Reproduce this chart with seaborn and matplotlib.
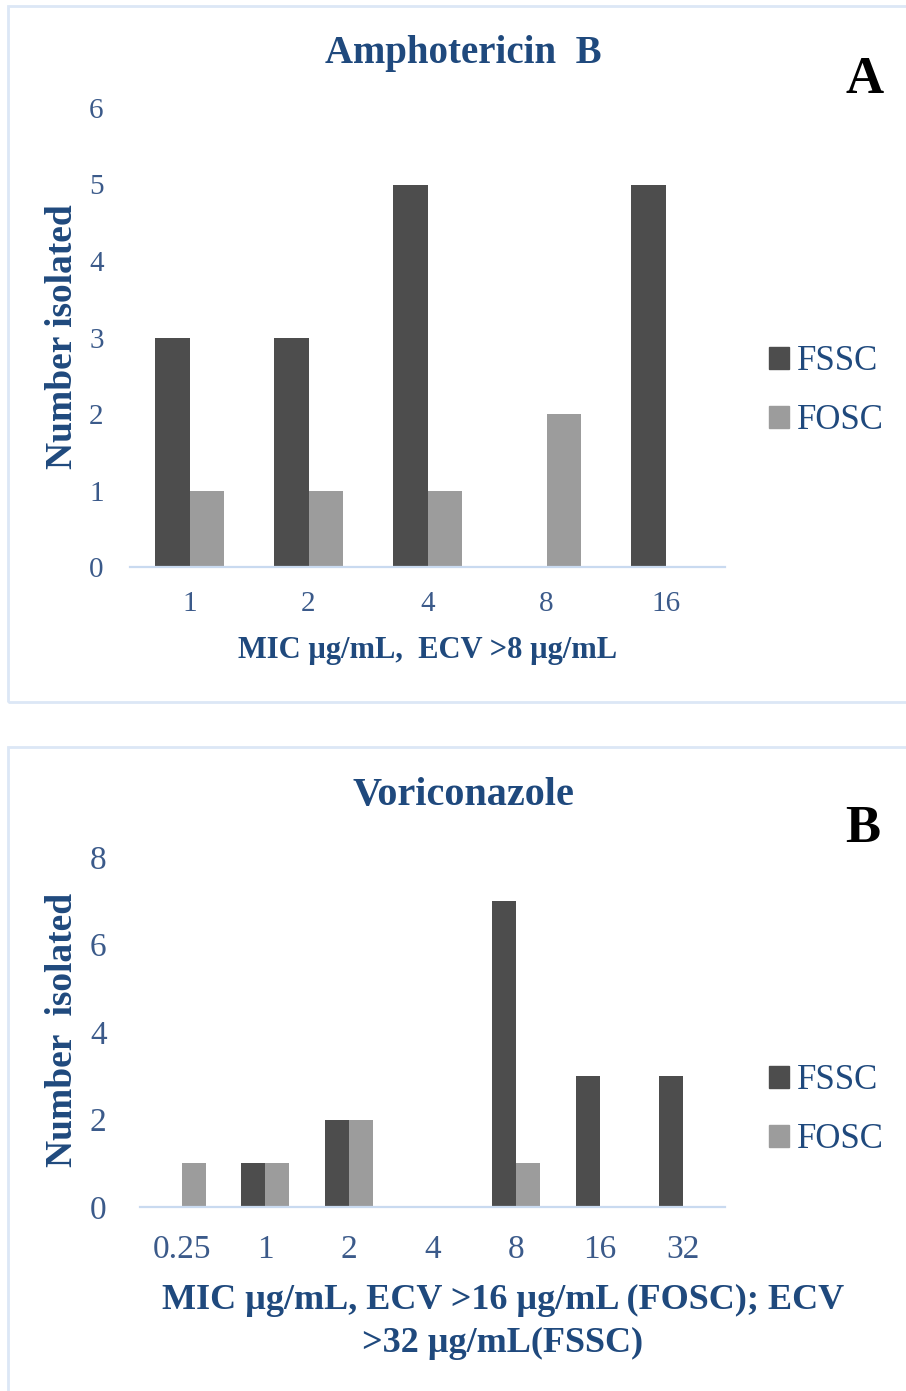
import pandas as pd
import matplotlib.pyplot as plt
import seaborn as sns
from matplotlib.patches import Rectangle

# ---- data ----
amb_mic = ["1", "2", "4", "8", "16"]
amb_fssc = [3, 3, 5, 0, 5]
amb_fosc = [1, 1, 1, 2, 0]

vor_mic = ["0.25", "1", "2", "4", "8", "16", "32"]
vor_fssc = [0, 1, 2, 0, 7, 3, 3]
vor_fosc = [1, 1, 2, 0, 1, 0, 0]

groups = ["FSSC", "FOSC"]
colors = {"FSSC": "#4d4d4d", "FOSC": "#9c9c9c"}

def long_table(mic, fssc, fosc):
    return pd.DataFrame({
        "MIC": mic * 2,
        "Count": fssc + fosc,
        "Group": ["FSSC"] * len(mic) + ["FOSC"] * len(mic),
    })

amb_df = long_table(amb_mic, amb_fssc, amb_fosc)
vor_df = long_table(vor_mic, vor_fssc, vor_fosc)

sns.set_theme(style="white")
plt.rcParams["font.family"] = ["Liberation Serif", "DejaVu Serif"]

W, H = 906, 1391
fig = plt.figure(figsize=(W / 100, H / 100), dpi=100)

blue = "#1f497d"
tick_blue = "#3b5a8a"
line_blue = "#c9daf0"

def fx(px):
    return px / W

def fy(py):
    return 1 - py / H

# panel frames
fig.patches.append(Rectangle((fx(8), fy(702)), fx(920) - fx(8), fy(6) - fy(702),
                             transform=fig.transFigure, fill=False, edgecolor="#dce7f6", lw=2))
fig.patches.append(Rectangle((fx(8), fy(1420)), fx(920) - fx(8), fy(747) - fy(1420),
                             transform=fig.transFigure, fill=False, edgecolor="#dce7f6", lw=2))


def draw_panel(df, order, rect, ymax, ystep, tick_fs, ypad, xpad):
    ax = fig.add_axes(rect)
    sns.barplot(data=df, x="MIC", y="Count", hue="Group", order=order,
                hue_order=groups, palette=colors, width=0.575, ax=ax,
                saturation=1, edgecolor="none", legend=False)
    ax.set_ylim(0, ymax)
    ax.set_xlim(-0.5, len(order) - 0.5)
    ax.set_yticks(range(0, ymax + 1, ystep))
    ax.set_xlabel("")
    ax.set_ylabel("")
    for s in ["top", "right", "left"]:
        ax.spines[s].set_visible(False)
    ax.spines["bottom"].set_color(line_blue)
    ax.spines["bottom"].set_linewidth(1.6)
    ax.tick_params(axis="both", length=0, labelsize=tick_fs, labelcolor=tick_blue)
    ax.tick_params(axis="y", pad=ypad)
    ax.tick_params(axis="x", pad=xpad)
    ax.set_facecolor("none")
    handles = [Rectangle((0, 0), 1, 1, color=colors[g]) for g in groups]
    return ax, handles


def add_legend(handles, ycenter):
    fig.legend(handles, groups, loc="center left", bbox_to_anchor=(fx(769), fy(ycenter)),
               frameon=False, fontsize=25, handlelength=0.58, handleheight=0.58,
               handletextpad=0.22, labelspacing=0.75, labelcolor=blue,
               borderaxespad=0, borderpad=0)


# ---- Panel A: Amphotericin B ----
axA, hA = draw_panel(amb_df, amb_mic,
                     [fx(130), fy(567), fx(725) - fx(130), fy(108) - fy(567)],
                     6, 1, 21, 19, 17)
fig.text(fx(463), fy(53), "Amphotericin  B", ha="center", va="center",
         fontsize=28, fontweight="bold", color=blue)
fig.text(fx(865), fy(80), "A", ha="center", va="center", fontsize=38,
         fontweight="bold", color="black")
fig.text(fx(62), fy(337), "Number isolated", ha="center", va="center", rotation=90,
         fontsize=27, fontweight="bold", color=blue)
fig.text(fx(428), fy(650), "MIC µg/mL,  ECV >8 µg/mL", ha="center", va="center",
         fontsize=22, fontweight="bold", color=blue)
add_legend(hA, 391)

# ---- Panel B: Voriconazole ----
axB, hB = draw_panel(vor_df, vor_mic,
                     [fx(140), fy(1207), fx(725) - fx(140), fy(857) - fy(1207)],
                     8, 2, 24, 24, 20)
fig.text(fx(463), fy(796), "Voriconazole", ha="center", va="center",
         fontsize=29, fontweight="bold", color=blue)
fig.text(fx(863), fy(829), "B", ha="center", va="center", fontsize=38,
         fontweight="bold", color="black")
fig.text(fx(62), fy(1030), "Number  isolated", ha="center", va="center", rotation=90,
         fontsize=27, fontweight="bold", color=blue)
fig.text(fx(503), fy(1322), "MIC µg/mL, ECV >16 µg/mL (FOSC); ECV\n>32 µg/mL(FSSC)",
         ha="center", va="center", fontsize=26, fontweight="bold", color=blue,
         linespacing=1.4)
add_legend(hB, 1110)

fig.savefig("out.png", dpi=100, facecolor="white")
